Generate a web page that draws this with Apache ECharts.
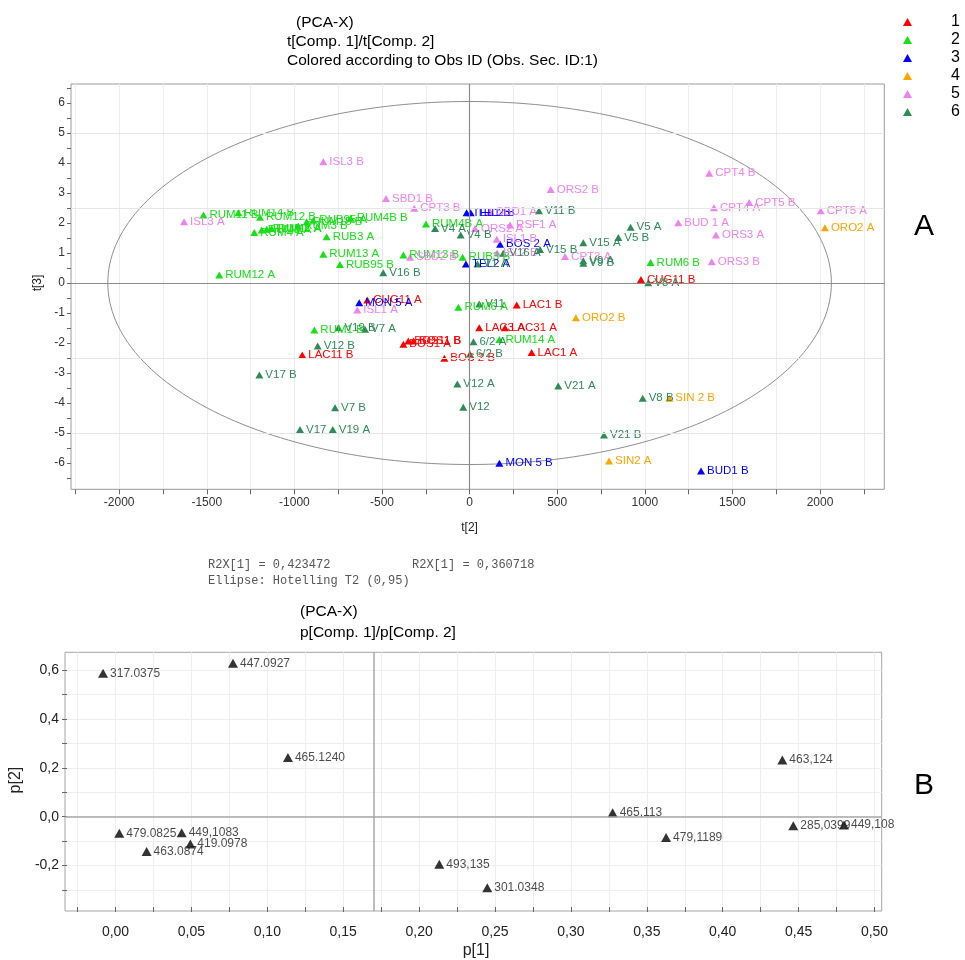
<!DOCTYPE html>
<html><head><meta charset="utf-8">
<script src="https://cdn.jsdelivr.net/npm/echarts@6/dist/echarts.min.js"></script>
<style>html,body{margin:0;padding:0;background:#fff}#c{width:965px;height:960px}</style>
</head><body><div id="c"></div>
<script>
// ================= DATA: score plot t[2] / t[3] =================
// group 1 (red)
const g1Names = ['CUG11 B','CUG11 A','LAC11 B','BOS11 B','BOS1 B','BOS1 A','BOS 2 B','LAC1 B','LAC3 A','LAC31 A','LAC1 A'];
const g1X = [978,-584,-955,-350,-321,-378,-144,269,55,202,354];
const g1Y = [0.12,-0.57,-2.4,-1.93,-1.93,-2.04,-2.51,-0.73,-1.49,-1.49,-2.32];
// group 2 (green)
const g2Names = ['RUM11 B','RUM14 B','RUM12 B','RUM15 B','RUB95 A','RUM4B B','RUM4 A','RUM1 A','RUM11 A','RUM2 A','RUM3 B','RUB3 A','RUM13 A','RUB95 B','RUM13 B','RUM4B A','RUB3 B','RUM12 A','RUM6 A','RUM14 A','RUM6 B','RUM1 B'];
const g2X = [-1519,-1320,-1196,-930,-892,-679,-1229,-1187,-1158,-1130,-978,-816,-835,-740,-378,-249,-40,-1429,-64,170,1033,-886];
const g2Y = [2.27,2.34,2.19,2.04,2.09,2.16,1.68,1.77,1.79,1.82,1.9,1.54,0.96,0.62,0.93,1.97,0.86,0.27,-0.81,-1.88,0.68,-1.57];
// group 3 (blue)
const g3Names = ['TEL1 B','TEL2 B','BOS 2 A','TEL2 A','MON 5 A','MON 5 B','BUD1 B'];
const g3X = [-17,6,174,-21,-630,170,1321];
const g3Y = [2.34,2.34,1.29,0.63,-0.66,-6.01,-6.27];
// group 4 (orange)
const g4Names = ['ORO2 A','ORO2 B','SIN 2 B','SIN2 A'];
const g4X = [2028,607,1140,796];
const g4Y = [1.84,-1.16,-3.84,-5.93];
// group 5 (violet)
const g5Names = ['ISL3 B','SBD1 B','CPT3 B','ISL3 A','SBD2 B','ORS2 A','RSF1 A','SBD1 A','ORS2 B','ISL1 B','ISL2 B','CPT3 A','BUD 1 A','CPT4 B','CPT4 A','CPT5 B','CPT5 A','ORS3 A','ORS3 B','ISL1 A'];
const g5X = [-835,-477,-316,-1630,-340,31,231,117,463,155,157,545,1191,1368,1395,1596,2004,1406,1382,-641];
const g5Y = [4.04,2.82,2.49,2.04,0.86,1.82,1.93,2.38,3.12,1.46,1.0,0.88,2.01,3.66,2.51,2.68,2.41,1.6,0.71,-0.9];
// group 6 (dark green)
const g6Names = ['V4 A','V4 B','V16 B','V11 B','V16 A','V15 B','V15 A','V9 A','V9 B','V5 A','V5 B','V1 A','V8 A','V11','V19 B','V7 A','V12 B','V17 B','6/2 A','6/2 B','V12 A','V12','V21 A','V7 B','V17','V19 A','V8 B','V21 B'];
const g6X = [-197,-51,-493,396,192,402,649,649,649,919,849,45,1020,55,-749,-597,-867,-1200,22,2,-70,-36,506,-768,-968,-781,988,767];
const g6Y = [1.82,1.6,0.34,2.41,0.99,1.12,1.34,0.74,0.66,1.86,1.52,0.63,0.01,-0.7,-1.49,-1.54,-2.1,-3.07,-1.96,-2.37,-3.37,-4.14,-3.43,-4.16,-4.88,-4.88,-3.84,-5.07];
const groupNames = ['1','2','3','4','5','6'];
// Hotelling T2 (0.95) ellipse radii
const ELL_A = 2065, ELL_B = 6.05;

// ================= DATA: loading plot p[1] / p[2] =================
const pNames = ['317.0375','447.0927','465.1240','479.0825','449,1083','419.0978','463.0874','463,124','465,113','479,1189','285,0399','449,108','493,135','301.0348'];
const pX = [-0.0082,0.0774,0.1136,0.0025,0.0436,0.0493,0.0205,0.4393,0.3275,0.3627,0.4465,0.4799,0.2133,0.2449];
const pY = [0.588,0.629,0.243,-0.068,-0.066,-0.112,-0.143,0.232,0.016,-0.085,-0.037,-0.034,-0.195,-0.291];
const P1_CENTER = 0.17;

// ================= fonts =================
function hasFont(name){
  const c = document.createElement('canvas').getContext('2d');
  const s = 'mmmmmmmmmmlli0123456789WWw';
  c.font = '72px monospace'; const w1 = c.measureText(s).width;
  c.font = '72px "' + name + '", monospace'; const w2 = c.measureText(s).width;
  return Math.abs(w1 - w2) > 0.5;
}
const NARROW = hasFont('Liberation Sans Narrow');
const FN = NARROW ? 'Liberation Sans Narrow' : 'Liberation Sans';
const SANS = 'Liberation Sans';

// ================= layout (pixels) =================
// top plot
const A = {left:71, right:884.3, top:84, bottom:489.3, x0:469.6, sx:0.1752, y0:283, sy:30};
A.xmin = (A.left - A.x0)/A.sx; A.xmax = (A.right - A.x0)/A.sx;
A.ymax = (A.y0 - A.top)/A.sy; A.ymin = (A.y0 - A.bottom)/A.sy;
// bottom plot
const B = {left:65, right:881.7, top:652.3, bottom:911, x0:115.5, sx:1518, y0:816.7, sy:244};
B.xmin = (B.left - B.x0)/B.sx; B.xmax = (B.right - B.x0)/B.sx;
B.ymax = (B.y0 - B.top)/B.sy; B.ymin = (B.y0 - B.bottom)/B.sy;

const cols = ['#ff0000','#16e016','#0000ff','#ffa500','#ee82ee','#2e8b57'];
const groups = [[g1Names,g1X,g1Y],[g2Names,g2X,g2Y],[g3Names,g3X,g3Y],[g4Names,g4X,g4Y],[g5Names,g5X,g5Y],[g6Names,g6X,g6Y]];

function near(v, step){ return Math.abs(v/step - Math.round(v/step)) < 1e-6; }

const grids = [
  // 0: top data grid
  {left:A.left, top:A.top, width:A.right-A.left, height:A.bottom-A.top, show:true, borderColor:'#9a9a9a', borderWidth:1, backgroundColor:'transparent'},
  // 1: top x tick grid (-2250..2250)
  {left:A.x0-2250*A.sx, top:A.top, width:4500*A.sx, height:A.bottom-A.top},
  // 2: top y tick grid (-6.5..6.5)
  {left:A.left, top:A.y0-6.5*A.sy, width:A.right-A.left, height:13*A.sy},
  // 3: bottom data grid
  {left:B.left, top:B.top, width:B.right-B.left, height:B.bottom-B.top, show:true, borderColor:'#a5a5a5', borderWidth:1, backgroundColor:'transparent'},
  // 4: bottom x tick grid (-0.025..0.5)
  {left:B.x0-0.025*B.sx, top:B.top, width:0.525*B.sx, height:B.bottom-B.top},
  // 5: bottom y tick grid (-0.3..0.6)
  {left:B.left, top:B.y0-0.6*B.sy, width:B.right-B.left, height:0.9*B.sy}
];

const xAxes = [
  {gridIndex:0, type:'value', min:A.xmin, max:A.xmax, show:false},
  {gridIndex:1, type:'value', min:-2250, max:2250, interval:250,
    axisLine:{show:false}, axisTick:{show:true, length:5, lineStyle:{color:'#666'}},
    axisLabel:{margin:7, color:'#333', fontFamily:FN, fontSize:NARROW?14:12, formatter:v=>near(v,500)?String(Math.round(v)):''},
    splitLine:{show:true, lineStyle:{color:'#ececec', width:1}},
    name:'t[2]', nameLocation:'middle', nameGap:32, nameTextStyle:{color:'#222', fontFamily:FN, fontSize:NARROW?14:12}},
  {gridIndex:2, type:'value', min:0, max:1, show:false},
  {gridIndex:3, type:'value', min:B.xmin, max:B.xmax, show:false},
  {gridIndex:4, type:'value', min:-0.025, max:0.5, interval:0.025,
    axisLine:{show:false}, axisTick:{show:true, length:5, lineStyle:{color:'#666'}},
    axisLabel:{margin:18, color:'#222', fontFamily:FN, fontSize:NARROW?16:14,
      formatter:v=>near(v,0.05)?(Math.round(v/0.05)*0.05).toFixed(2).replace('.',','):''},
    splitLine:{show:true, lineStyle:{color:'#eeeeee', width:1}},
    name:'p[1]', nameLocation:'middle', nameGap:36, nameTextStyle:{color:'#222', fontFamily:FN, fontSize:NARROW?18:16}},
  {gridIndex:5, type:'value', min:0, max:1, show:false}
];

const yAxes = [
  {gridIndex:0, type:'value', min:A.ymin, max:A.ymax, show:false},
  {gridIndex:1, type:'value', min:0, max:1, show:false},
  {gridIndex:2, type:'value', min:-6.5, max:6.5, interval:0.5,
    axisLine:{show:false}, axisTick:{show:true, length:4, lineStyle:{color:'#666'}},
    axisLabel:{margin:6, color:'#333', fontFamily:SANS, fontSize:12, formatter:v=>near(v,1)?String(Math.round(v)):''},
    splitLine:{show:false},
    name:'t[3]', nameLocation:'middle', nameGap:23, nameTextStyle:{color:'#222', fontFamily:SANS, fontSize:12}},
  {gridIndex:3, type:'value', min:B.ymin, max:B.ymax, show:false},
  {gridIndex:4, type:'value', min:0, max:1, show:false},
  {gridIndex:5, type:'value', min:-0.3, max:0.6, interval:0.1,
    axisLine:{show:false}, axisTick:{show:true, length:5, lineStyle:{color:'#666'}},
    axisLabel:{margin:8, color:'#222', fontFamily:SANS, fontSize:14,
      formatter:v=>near(v,0.2)?(Math.round(v/0.2)*0.2).toFixed(1).replace('.',','):''},
    splitLine:{show:true, lineStyle:{color:'#eeeeee', width:1}},
    name:'p[2]', nameLocation:'middle', nameGap:33, nameTextStyle:{color:'#222', fontFamily:SANS, fontSize:16}}
];

const series = [];
// reference lines in the score plot
series.push({type:'line', xAxisIndex:0, yAxisIndex:0, data:[], silent:true,
  markLine:{silent:true, symbol:['none','none'], label:{show:false}, animation:false,
    lineStyle:{color:'#e6e6e6', width:1, type:'solid'},
    data:[{yAxis:5},{yAxis:2.5},{yAxis:-2.5},{yAxis:-5},
      {yAxis:0, lineStyle:{color:'#8c8c8c', width:1.2, type:'solid'}},
      {xAxis:0, lineStyle:{color:'#8c8c8c', width:1.2, type:'solid'}}]}});
// Hotelling ellipse
series.push({type:'custom', xAxisIndex:0, yAxisIndex:0, data:[[0,0]], silent:true, clip:false,
  renderItem:function(params, api){
    const pts = [];
    for (let i = 0; i <= 240; i++) {
      const t = i/240*2*Math.PI;
      pts.push(api.coord([ELL_A*Math.cos(t), ELL_B*Math.sin(t)]));
    }
    return {type:'polyline', shape:{points:pts}, style:{stroke:'#8f8f8f', fill:null, lineWidth:1}};
  }});
// group scatter
groups.forEach((g, gi) => {
  const [names, xs, ys] = g;
  series.push({type:'scatter', name:groupNames[gi], xAxisIndex:0, yAxisIndex:0,
    symbol:'triangle', symbolSize:[8,7], itemStyle:{color:cols[gi], opacity:1},
    label:{show:true, position:'right', distance:2, formatter:'{b}', color:cols[gi], fontFamily:SANS, fontSize:11.5},
    data:names.map((n,i)=>({name:n, value:[xs[i], ys[i]]}))});
});
// loading plot reference lines
series.push({type:'line', xAxisIndex:3, yAxisIndex:3, data:[], silent:true,
  markLine:{silent:true, symbol:['none','none'], label:{show:false}, animation:false,
    lineStyle:{color:'#a8a8a8', width:1.5, type:'solid'},
    data:[{yAxis:0},{xAxis:P1_CENTER}]}});
// loading scatter
series.push({type:'scatter', name:'loadings', xAxisIndex:3, yAxisIndex:3,
  symbol:'triangle', symbolSize:[10,9], itemStyle:{color:'#000'},
  label:{show:true, position:'right', distance:2, formatter:'{b}', color:'#1a1a1a', fontFamily:SANS, fontSize:12},
  data:pNames.map((n,i)=>({name:n, value:[pX[i], pY[i]]}))});

const tstyle = {fontSize:15.5, fontWeight:'normal', color:'#000', fontFamily:SANS};
const option = {
  animation:false,
  backgroundColor:'#fff',
  title:[
    {text:'(PCA-X)', left:296, top:15, textStyle:tstyle, padding:0},
    {text:'t[Comp. 1]/t[Comp. 2]', left:287, top:34, textStyle:tstyle, padding:0},
    {text:'Colored according to Obs ID (Obs. Sec. ID:1)', left:287, top:53, textStyle:tstyle, padding:0},
    {text:'(PCA-X)', left:300, top:604, textStyle:tstyle, padding:0},
    {text:'p[Comp. 1]/p[Comp. 2]', left:300, top:625, textStyle:tstyle, padding:0}
  ],
  legend:{orient:'vertical', left:898, top:8, itemWidth:9, itemHeight:8, itemGap:0, icon:'triangle',
    selectedMode:false, data:groupNames,
    textStyle:{fontSize:16, color:'#000', lineHeight:18, fontFamily:SANS, padding:[0,0,0,34]}},
  grid:grids, xAxis:xAxes, yAxis:yAxes, series:series,
  graphic:[
    {type:'text', left:914, top:212, style:{text:'A', fontSize:30, fontFamily:SANS, fill:'#000'}},
    {type:'text', left:914, top:771, style:{text:'B', fontSize:30, fontFamily:SANS, fill:'#000'}},
    {type:'text', left:208, top:559, style:{text:'R2X[1] = 0,423472', fontSize:12, fontFamily:'Liberation Mono', fill:'#555'}},
    {type:'text', left:412, top:559, style:{text:'R2X[1] = 0,360718', fontSize:12, fontFamily:'Liberation Mono', fill:'#555'}},
    {type:'text', left:208, top:575, style:{text:'Ellipse: Hotelling T2 (0,95)', fontSize:12, fontFamily:'Liberation Mono', fill:'#555'}}
  ]
};
const chart = echarts.init(document.getElementById('c'), null, {renderer:'canvas'});
chart.setOption(option);
</script>
</body></html>
